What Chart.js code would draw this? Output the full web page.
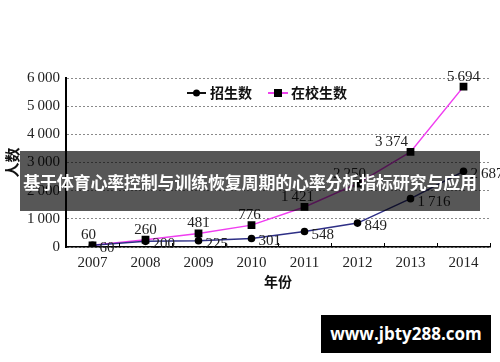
<!DOCTYPE html>
<html>
<head>
<meta charset="utf-8">
<script src="https://cdn.jsdelivr.net/npm/chart.js@4/dist/chart.umd.min.js"></script>
<style>
html, body { margin: 0; padding: 0; background: #fff; }
#wrap { position: relative; width: 500px; height: 362px; }
#banner {
  position: absolute; left: 20px; top: 151px; width: 460px; height: 60px;
  background: rgba(0, 0, 0, 0.66); color: #fff;
  font: bold 17px "Noto Sans CJK SC"; line-height: 62px;
  text-align: center; white-space: nowrap; letter-spacing: -0.2px;
}
#site {
  position: absolute; left: 321px; top: 315px; width: 170px; height: 38px;
  background: #000; color: #fff;
  font: bold 17px "Open Sans"; line-height: 38px; text-align: center;
}
</style>
</head>
<body>
<div id="wrap">
  <canvas id="myChart" width="500" height="362"></canvas>
  <div id="banner">基于体育心率控制与训练恢复周期的心率分析指标研究与应用</div>
  <div id="site">www.jbty288.com</div>
</div>
<script>
const years = ['2007', '2008', '2009', '2010', '2011', '2012', '2013', '2014'];
const enrolled = [60, 200, 225, 301, 548, 849, 1716, 2687];     // 招生数
const students = [60, 260, 481, 776, 1421, 2250, 3374, 5694];   // 在校生数
const seriesNames = ['招生数', '在校生数'];
const yMin = 0, yMax = 6000, yStep = 1000;

const fmt = v => {
  const s = String(v);
  return v >= 1000 ? s.slice(0, -3) + '\u2009' + s.slice(-3) : s;
};

// label nudges for the 在校生数 series (text is centred above the point)
const studentsDx = [-4, 0, 0, -2, -7, -8, -19, 0];

const numFont = { family: 'Liberation Serif', size: 15 };
const cjkFont = '"Noto Sans CJK SC"';

const extras = {
  id: 'extras',
  afterDatasetsDraw(chart) {
    const ctx = chart.ctx;
    const area = chart.chartArea;
    const x = chart.scales.x;

    // small tick marks between categories, pointing up
    ctx.save();
    ctx.strokeStyle = '#000';
    ctx.lineWidth = 1;
    for (let i = 0; i <= years.length; i++) {
      const px = Math.round(x.getPixelForValue(i - 0.5)) + 0.5;
      ctx.beginPath();
      ctx.moveTo(px, area.bottom);
      ctx.lineTo(px, area.bottom - 4);
      ctx.stroke();
    }

    // value labels
    ctx.font = '15px "Liberation Serif"';
    ctx.fillStyle = '#222';
    ctx.textBaseline = 'middle';
    const m0 = chart.getDatasetMeta(0);
    ctx.textAlign = 'left';
    m0.data.forEach((p, i) => {
      ctx.fillText(fmt(enrolled[i]), p.x + 7, p.y + 3);
    });
    const m1 = chart.getDatasetMeta(1);
    ctx.textAlign = 'center';
    m1.data.forEach((p, i) => {
      ctx.fillText(fmt(students[i]), p.x + studentsDx[i], p.y - 10);
    });

    // legend
    const ly = 93;
    ctx.lineWidth = 2;
    ctx.strokeStyle = '#111';
    ctx.beginPath(); ctx.moveTo(187, ly); ctx.lineTo(206, ly); ctx.stroke();
    ctx.fillStyle = '#000';
    ctx.beginPath(); ctx.arc(196.5, ly, 3.5, 0, Math.PI * 2); ctx.fill();
    ctx.strokeStyle = '#ee44ee';
    ctx.beginPath(); ctx.moveTo(268, ly); ctx.lineTo(288, ly); ctx.stroke();
    ctx.fillRect(274, ly - 4, 8, 8);
    ctx.font = 'bold 14px ' + cjkFont;
    ctx.textAlign = 'left';
    ctx.fillStyle = '#111';
    ctx.fillText(seriesNames[0], 210, ly);
    ctx.fillText(seriesNames[1], 291, ly);
    ctx.restore();
  }
};

const config = {
  type: 'line',
  data: {
    labels: years,
    datasets: [
      {
        label: seriesNames[0],
        data: enrolled,
        borderColor: '#2e2f86',
        backgroundColor: '#000',
        borderWidth: 1.5,
        pointStyle: 'circle',
        pointRadius: 3.8,
        pointBorderWidth: 0,
        tension: 0
      },
      {
        label: seriesNames[1],
        data: students,
        borderColor: '#f03ef0',
        backgroundColor: '#000',
        borderWidth: 1.5,
        pointStyle: 'rect',
        pointRadius: 5.5,
        pointBorderWidth: 0,
        tension: 0
      }
    ]
  },
  options: {
    responsive: false,
    animation: false,
    events: [],
    layout: { padding: { top: 78, right: 10, bottom: 72, left: 0 } },
    scales: {
      x: {
        offset: true,
        grid: { display: false, drawTicks: false },
        border: { color: '#000', width: 1.5 },
        ticks: { color: '#222', font: numFont, padding: 7, maxRotation: 0 },
        title: {
          display: true, text: '年份', color: '#111',
          font: { family: 'Noto Sans CJK SC', size: 14, weight: 'bold' },
          padding: { top: 0, bottom: 0 }
        },
        afterFit: s => { s.height = 43; }
      },
      y: {
        min: yMin,
        max: yMax,
        ticks: { stepSize: yStep, color: '#222', font: numFont, padding: 6, callback: v => fmt(v) },
        grid: { color: '#8a8a8a', lineWidth: 1, drawTicks: false },
        border: { color: '#000', width: 2, dash: [2, 2] },
        title: {
          display: true, text: '人数', color: '#111',
          font: { family: 'Noto Sans CJK SC', size: 15, weight: 'bold' },
          padding: { top: 3, bottom: 0 }
        },
        afterFit: s => { s.width = 66; }
      }
    },
    plugins: {
      legend: { display: false },
      tooltip: { enabled: false }
    }
  },
  plugins: [extras]
};

new Chart(document.getElementById('myChart'), config);
</script>
</body>
</html>
